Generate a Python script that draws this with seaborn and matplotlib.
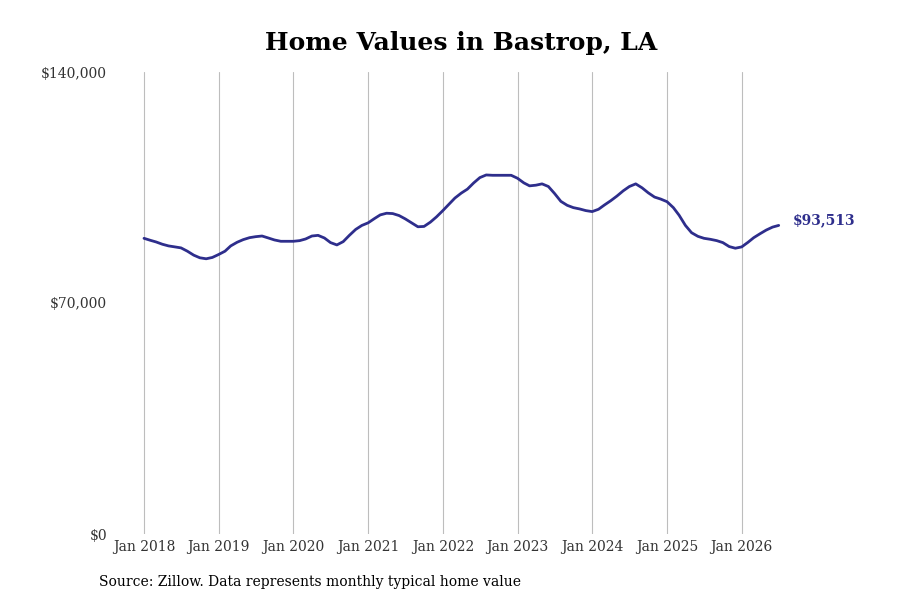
import pandas as pd
import numpy as np
import matplotlib
matplotlib.use("Agg")
import matplotlib.pyplot as plt
import matplotlib.dates as mdates
import matplotlib.ticker as mticker
import seaborn as sns

# monthly typical home value, Jan 2018 .. Jul 2026
start_month = "2018-01-01"
home_values = [
    89600, 89000, 88500, 87800, 87300, 87000, 86700, 85700, 84500, 83700, 83400, 83800,
    84700, 85700, 87300, 88400, 89200, 89800, 90100, 90300, 89700, 89100, 88700, 88700,
    88700, 88900, 89400, 90300, 90500, 89700, 88300, 87600, 88600, 90500, 92300, 93500,
    94300, 95600, 96700, 97200, 97100, 96500, 95500, 94300, 93100, 93200, 94500, 96100,
    98000, 100000, 101800, 103300, 104500, 106400, 108000, 108800, 108700, 108700, 108700, 108700,
    107800, 106400, 105500, 105700, 106100, 105300, 103200, 100800, 99600, 98900, 98500, 98000,
    97700, 98400, 99700, 101000, 102400, 104000, 105300, 106100, 104900, 103400, 102100, 101500,
    100700, 98900, 96600, 93500, 91300, 90200, 89600, 89300, 88900, 88300, 87100, 86600,
    87000, 88400, 89800, 91000, 92100, 93000, 93513,
]
y_ticks = [0, 70000, 140000]
title = "Home Values in Bastrop, LA"
source_note = "Source: Zillow. Data represents monthly typical home value"

line_color = "#2e2e8c"

sns.set_theme(style="white")
plt.rcParams['font.family'] = ['DejaVu Serif']

df = pd.DataFrame({
    "date": pd.date_range(start_month, periods=len(home_values), freq="MS"),
    "value": home_values,
})

fig = plt.figure(figsize=(9, 6), dpi=100)
ax = fig.add_axes([0.125, 0.11, 0.775, 0.77])

sns.lineplot(data=df, x="date", y="value", ax=ax, color=line_color, linewidth=2.0)

# end label
last = df.iloc[-1]
ax.annotate(f"${last['value']:,.0f}", xy=(last["date"], last["value"]),
            xytext=(10, 4), textcoords="offset points", va="center", ha="left",
            fontsize=10, fontweight="bold", color=line_color)

ax.set_ylim(0, 140000)
ax.set_yticks(y_ticks)
ax.yaxis.set_major_formatter(mticker.FuncFormatter(lambda v, p: f"${v:,.0f}"))

ax.set_xlim(pd.Timestamp("2018-01-01") - pd.Timedelta(days=154),
            pd.Timestamp("2026-01-01") + pd.Timedelta(days=334))
ax.xaxis.set_major_locator(mdates.YearLocator())
ax.xaxis.set_major_formatter(mdates.DateFormatter("Jan %Y"))

ax.grid(axis="x", color="#bdbdbd", linewidth=0.8)
ax.grid(axis="y", visible=False)
for s in ax.spines.values():
    s.set_visible(False)
ax.tick_params(axis="both", length=0, labelsize=10, labelcolor="#333333")
ax.tick_params(axis="y", pad=4)
ax.tick_params(axis="x", pad=4)
ax.set_xlabel("")
ax.set_ylabel("")

ax.set_title(title, fontsize=18, fontweight="bold", pad=16, color="black")
fig.text(0.11, 0.03, source_note, fontsize=10, ha="left", va="center", color="black")

fig.savefig("out.png", dpi=100)
